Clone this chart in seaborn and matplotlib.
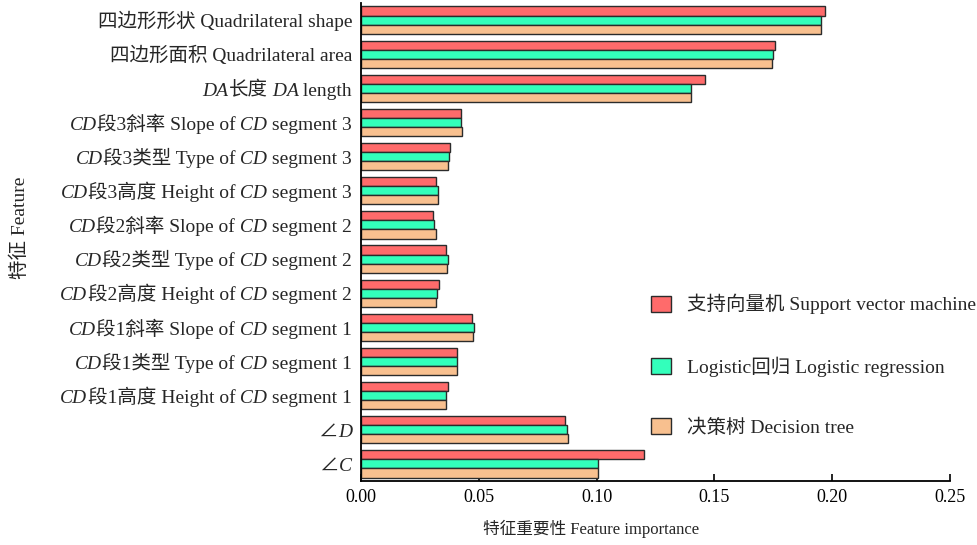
import matplotlib
matplotlib.use("Agg")
import matplotlib.pyplot as plt
import matplotlib.transforms as mtransforms
from matplotlib.ticker import FormatStrFormatter
import numpy as np
import pandas as pd
import seaborn as sns

# Feature names; text between asterisks is set in italics
features = [
    "四边形形状 Quadrilateral shape",
    "四边形面积 Quadrilateral area",
    "*DA*长度* DA* length",
    "*CD*段3斜率 Slope of* CD* segment 3",
    "*CD*段3类型 Type of* CD* segment 3",
    "*CD*段3高度 Height of* CD* segment 3",
    "*CD*段2斜率 Slope of* CD* segment 2",
    "*CD*段2类型 Type of* CD* segment 2",
    "*CD*段2高度 Height of* CD* segment 2",
    "*CD*段1斜率 Slope of* CD* segment 1",
    "*CD*段1类型 Type of* CD* segment 1",
    "*CD*段1高度 Height of* CD* segment 1",
    "∠*D*",
    "∠*C*",
]

svm_importance = [0.1968, 0.1759, 0.1459, 0.0423, 0.0378, 0.0317, 0.0306,
                  0.0362, 0.0331, 0.0471, 0.0409, 0.0371, 0.0866, 0.1200]
logit_importance = [0.1954, 0.1750, 0.1399, 0.0426, 0.0374, 0.0328, 0.0309,
                    0.0369, 0.0324, 0.0480, 0.0406, 0.0359, 0.0874, 0.1007]
tree_importance = [0.1954, 0.1746, 0.1399, 0.0430, 0.0371, 0.0325, 0.0317,
                   0.0366, 0.0320, 0.0477, 0.0409, 0.0362, 0.0880, 0.1005]

models = ["支持向量机 Support vector machine",
          "Logistic回归 Logistic regression",
          "决策树 Decision tree"]
colors = ["#FF6B6B", "#33FFBB", "#F8C08F"]

x_ticks = [0.00, 0.05, 0.10, 0.15, 0.20, 0.25]

FS_LABEL = 14      # category labels, legend, y-axis title
FS_TICK = 13       # x tick labels
FS_XTITLE = 12     # x-axis title
FAMILY = ["Liberation Serif", "Noto Sans CJK SC", "DejaVu Sans"]

sns.set_style("ticks")
plt.rcParams["font.family"] = FAMILY
plt.rcParams["axes.unicode_minus"] = False

feature_keys = [f.replace("*", "") for f in features]
df = pd.DataFrame({
    "feature": feature_keys * 3,
    "importance": svm_importance + logit_importance + tree_importance,
    "model": np.repeat(models, len(features)),
})

fig = plt.figure(figsize=(9.78, 5.45), dpi=100)
ax = fig.add_axes([361 / 978, 1 - 481 / 545, 589 / 978, 478 / 545])

sns.barplot(data=df, y="feature", x="importance", hue="model",
            order=feature_keys, hue_order=models, palette=colors,
            saturation=1, edgecolor="#2b2b2b", linewidth=1.0,
            width=0.8, orient="h", errorbar=None, ax=ax)

n = len(features)
ax.set_xlim(0, 0.25)
ax.set_ylim(n - 0.5, -0.5)
ax.set_xticks(x_ticks)
ax.xaxis.set_major_formatter(FormatStrFormatter("%.2f"))
ax.set_yticks(range(n))
ax.set_yticklabels([])
ax.set_xlabel("")
ax.set_ylabel("")
ax.tick_params(axis="x", direction="in", length=5, width=1.2,
               labelsize=FS_TICK, pad=6, colors="black")
ax.tick_params(axis="y", direction="in", length=3, width=1.2)
for side in ("top", "right"):
    ax.spines[side].set_visible(False)
for side in ("left", "bottom"):
    ax.spines[side].set_linewidth(1.3)
    ax.spines[side].set_color("black")

# Category labels with mixed upright / italic runs, laid out right to left
fig.canvas.draw()
renderer = fig.canvas.get_renderer()
base = ax.get_yaxis_transform()
drop = 0.37 * FS_LABEL * fig.dpi / 72
for i, name in enumerate(features):
    parts = name.split("*")
    x_off = -9
    for j in range(len(parts) - 1, -1, -1):
        seg = parts[j]
        if not seg:
            continue
        tr = mtransforms.offset_copy(base, fig=fig, x=x_off, y=-drop, units="dots")
        t = ax.text(0, i, seg, transform=tr, ha="right", va="baseline",
                    fontsize=FS_LABEL, family=FAMILY,
                    fontstyle="italic" if j % 2 else "normal", clip_on=False)
        x_off -= t.get_window_extent(renderer).width

fig.text(20 / 978, 1 - 228 / 545, "特征 Feature", rotation=90,
         ha="center", va="center", fontsize=FS_LABEL)
fig.text(591 / 978, 1 - 529 / 545, "特征重要性 Feature importance",
         ha="center", va="center", fontsize=FS_XTITLE)

handles, labels = ax.get_legend_handles_labels()
ax.legend(handles, labels, loc="upper left",
          bbox_to_anchor=(651 / 978, 1 - 294 / 545),
          bbox_transform=fig.transFigure, frameon=False, fontsize=FS_LABEL,
          handlelength=1.03, handleheight=0.88, handletextpad=0.8,
          labelspacing=2.15, borderpad=0, borderaxespad=0)

fig.savefig("out.png", dpi=100)
